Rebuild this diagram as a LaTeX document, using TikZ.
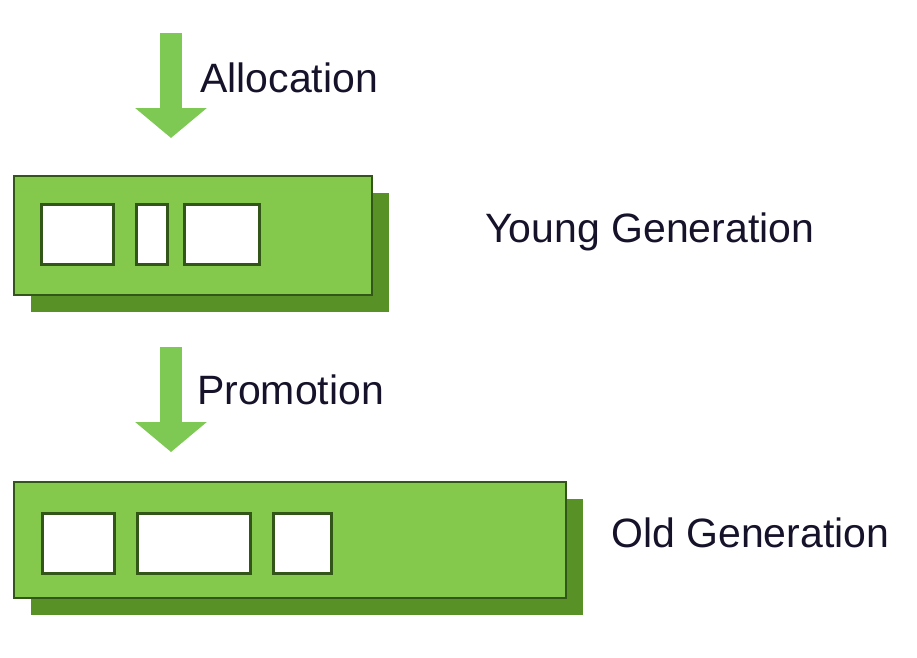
\documentclass[tikz,border=0pt]{standalone}
\usepackage{fontspec}
\setmainfont{Liberation Sans}
\usepackage{tikz}
\usetikzlibrary{arrows.meta,positioning,shadows}

\definecolor{boxgreen}{RGB}{132,201,76}
\definecolor{shadegreen}{RGB}{88,146,38}
\definecolor{edgegreen}{RGB}{50,86,24}
\definecolor{arrowgreen}{RGB}{126,200,84}
\definecolor{textcol}{RGB}{22,18,42}

\begin{document}
\begin{tikzpicture}[x=1pt, y=-1pt,
  every node/.style={font=\fontsize{41}{48}\selectfont, text=textcol},
  genbox/.style={draw=edgegreen, line width=1.5pt, fill=boxgreen, anchor=north west, inner sep=0pt,
    drop shadow={shadow xshift=17pt, shadow yshift=-17pt, fill=shadegreen, opacity=1}},
  cell/.style={draw=edgegreen, line width=2.5pt, fill=white, anchor=north west, inner sep=0pt, minimum height=60pt},
  flow/.style={draw=arrowgreen, line width=22pt, -{Triangle[length=30pt, width=70pt]}},
  lbl/.style={anchor=base west, inner sep=0pt}]
\useasboundingbox (0,0) rectangle (917,657);

% young generation
\node[genbox, minimum width=358pt, minimum height=119pt] (young) at (13,175) {};
\node[cell, minimum width=72pt] (y1) at (40,203) {};
\node[cell, minimum width=31pt] (y2) at (135,203) {};
\node[cell, minimum width=75pt] (y3) at (183,203) {};
\node[lbl] (younglbl) at (485,242) {Young Generation};

% old generation
\node[genbox, minimum width=552pt, minimum height=116pt] (old) at (13,481) {};
\node[cell, minimum width=72pt] (o1) at (41,512) {};
\node[cell, minimum width=113pt] (o2) at (136,512) {};
\node[cell, minimum width=58pt] (o3) at (272,512) {};
\node[lbl] (oldlbl) at (611,547) {Old Generation};

% arrows
\coordinate (allocin) at (171,33);
\coordinate (promoin) at (171,347);
\draw[flow, shorten >=37pt] (allocin) -- (allocin |- young.north);
\draw[flow, shorten >=29pt] (promoin) -- (promoin |- old.north);
\node[lbl] (alloclbl) at (200,92) {Allocation};
\node[lbl] (promolbl) at (197,404) {Promotion};
\end{tikzpicture}
\end{document}
